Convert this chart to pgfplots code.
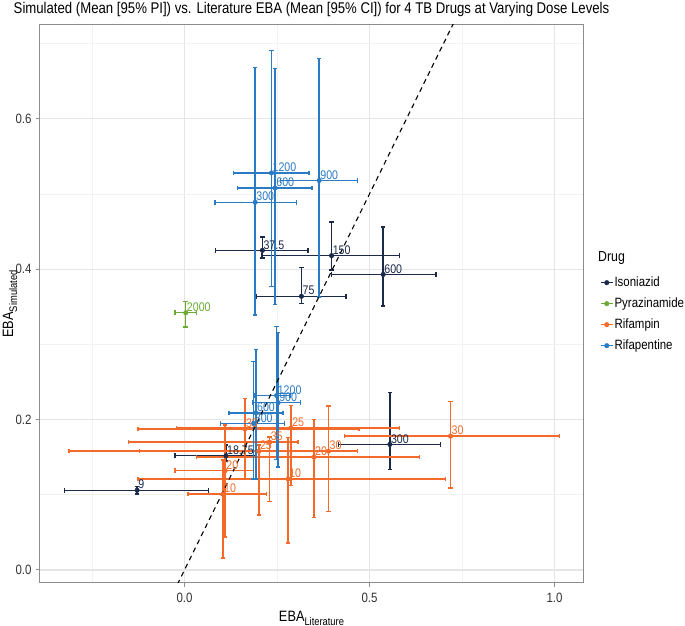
\documentclass[border=0pt]{standalone}
\usepackage{pgfplots}
\pgfplotsset{compat=1.18}
\usepackage{pgfplotstable}
\usepackage{fontspec}
\setmainfont{Liberation Sans}[FakeStretch=0.85]
\definecolor{iso}{HTML}{1B2A4A}
\definecolor{pyr}{HTML}{6AAA35}
\definecolor{rif}{HTML}{F36A2B}
\definecolor{rpt}{HTML}{2B7BC4}

\pgfplotstableread{
x y xlo xhi ylo yhi lab
-0.128 0.106 -0.324 0.065 0.101 0.111 9
0.112 0.152 -0.026 0.193 0.145 0.166 18.75
0.2105 0.425 0.084 0.334 0.415 0.443 37.5
0.316 0.364 0.195 0.436 0.354 0.402 75
0.3975 0.418 0.210 0.581 0.399 0.463 150
0.555 0.167 0.416 0.692 0.134 0.236 300
0.537 0.393 0.398 0.680 0.351 0.456 600
}\isotab

\pgfplotstableread{
x y xlo xhi ylo yhi lab
0.0035 0.342 -0.026 0.0325 0.323 0.357 2000
}\pyrtab

\pgfplotstableread{
x y xlo xhi ylo yhi lab
0.163 0.1875 -0.126 0.472 0.121 0.228 35
0.288 0.189 -0.022 0.581 0.112 0.219 25
0.230 0.170 -0.151 0.307 0.091 0.177 35
0.201 0.158 -0.122 0.468 0.073 0.166 25
0.350 0.150 0.0325 0.635 0.070 0.200 20
0.389 0.158 -0.312 0.468 0.078 0.218 30
0.719 0.178 0.432 1.013 0.109 0.224 30
0.110 0.132 -0.026 0.186 0.044 0.193 20
0.280 0.121 -0.126 0.705 0.036 0.176 10
0.104 0.101 0.010 0.221 0.016 0.146 10
}\riftab

\pgfplotstableread{
x y xlo xhi ylo yhi lab
0.235 0.528 0.132 0.337 0.377 0.691 1200
0.245 0.508 0.144 0.345 0.353 0.667 600
0.364 0.518 0.260 0.468 0.363 0.680 900
0.191 0.489 0.082 0.302 0.339 0.668 300
0.249 0.232 0.188 0.285 0.147 0.3235 1200
0.253 0.2225 0.183 0.314 0.137 0.316 900
0.193 0.209 0.120 0.266 0.121 0.293 600
0.187 0.195 0.098 0.271 0.121 0.277 300
}\rpttab

\pgfplotsset{
  drugplot/.style={
    #1, only marks, mark=*, mark size=2.3pt, forget plot,
    mark options={#1},
    nodes near coords, point meta=explicit symbolic,
    nodes near coords style={anchor=south west, inner sep=0pt, xshift=1pt, yshift=1pt,
      font=\fontsize{12.5}{12.5}\selectfont, text=#1},
    error bars/.cd, x dir=both, x explicit, y dir=both, y explicit,
    error bar style={line width=1.4pt, #1},
    error mark options={rotate=90, #1, mark size=2.3pt, line width=1.4pt},
  },
  /pgfplots/table/drugtable/.style={x=x, y=y, meta=lab,
    x error plus expr=\thisrow{xhi}-\thisrow{x},
    x error minus expr=\thisrow{x}-\thisrow{xlo},
    y error plus expr=\thisrow{yhi}-\thisrow{y},
    y error minus expr=\thisrow{y}-\thisrow{ylo}},
}

\begin{document}
\begin{tikzpicture}
\begin{axis}[
  scale only axis, width=543pt, height=558pt,
  at={(0pt,0pt)}, anchor=south west,
  xmin=-0.3905, xmax=1.077, ymin=-0.0173, ymax=0.7247,
  xtick={0,0.5,1}, xticklabels={0.0,0.5,1.0},
  ytick={0,0.2,0.4,0.6}, yticklabels={0.0,0.2,0.4,0.6},
  minor xtick={-0.25,0.25,0.75}, minor ytick={0.1,0.3,0.5,0.7},
  tick pos=left,
  grid=both,
  major grid style={color=black!10, line width=1.1pt},
  minor grid style={color=black!5, line width=0.6pt},
  axis line style={black!45, line width=1pt},
  tick align=outside, major tick length=4pt, minor tick length=0pt,
  tick style={black!45, line width=1pt},
  xticklabel style={font=\fontsize{13.5}{13.5}\selectfont, text=black!80, yshift=-3pt},
  yticklabel style={font=\fontsize{13.5}{13.5}\selectfont, text=black!80, xshift=-1pt},
  title={Simulated (Mean [95\% PI]) vs. Literature EBA (Mean [95\% CI]) for 4 TB Drugs at Varying Dose Levels},
  every axis title/.style={at={(axis description cs:0.5,1)}, anchor=center, yshift=16pt, font=\fontsize{15.5}{15.5}\selectfont},
  xlabel={EBA{\fontsize{11}{11}\selectfont\raisebox{-4pt}{Literature}}},
  every axis x label/.style={at={(axis description cs:0.5,0)}, anchor=center, yshift=-35pt, font=\fontsize{15}{15}\selectfont},
  ylabel={EBA{\fontsize{11}{11}\selectfont\raisebox{-4pt}{Simulated}}},
  every axis y label/.style={at={(axis description cs:-0.0552,0.5)}, anchor=center, rotate=90, font=\fontsize{15}{15}\selectfont},
  legend style={at={(axis description cs:1.031,0.552)}, anchor=north west, draw=none, fill=none,
    font=\fontsize{13.5}{13.5}\selectfont, row sep=6pt, inner sep=0pt,
    nodes={inner sep=1pt, text height=10pt, text depth=3pt}},
  legend cell align=left,
  legend image code/.code={\draw[#1, line width=1.5pt] plot[mark=none] coordinates {(0pt,0pt)(12pt,0pt)};
    \fill[#1] (6pt,0pt) circle (2.3pt);},
]
\addplot[drugplot=iso] table[drugtable] {\isotab};
\addplot[drugplot=pyr] table[drugtable] {\pyrtab};
\addplot[drugplot=rif] table[drugtable] {\riftab};
\addplot[drugplot=rpt] table[drugtable] {\rpttab};
\addplot[black, dashed, dash pattern=on 5pt off 4pt, line width=1.1pt, forget plot] coordinates {(-0.03,-0.03) (0.75,0.75)};
\addlegendimage{iso}\addlegendentry{Isoniazid}
\addlegendimage{pyr}\addlegendentry{Pyrazinamide}
\addlegendimage{rif}\addlegendentry{Rifampin}
\addlegendimage{rpt}\addlegendentry{Rifapentine}
\end{axis}
\node[anchor=west, font=\fontsize{14.5}{14.5}\selectfont, inner sep=0pt] at (558pt,325pt) {Drug};
\pgfresetboundingbox
\useasboundingbox (-40pt,-43pt) rectangle (645pt,583pt);
\end{tikzpicture}
\end{document}
